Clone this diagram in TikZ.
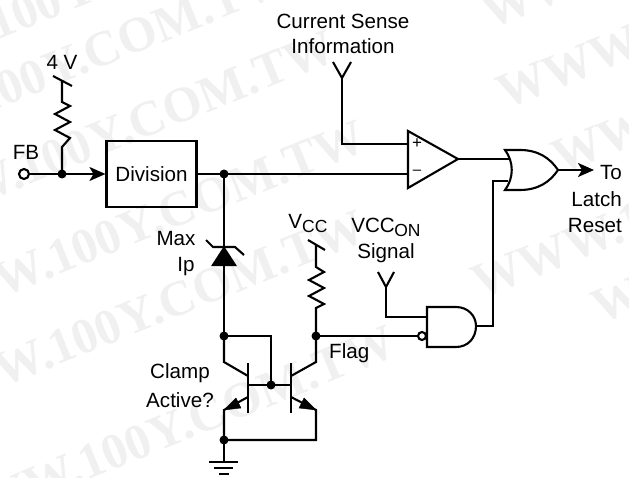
\documentclass[tikz,border=0pt]{standalone}
\usepackage{fontspec}
\setmainfont{Liberation Sans}
\newfontfamily\markfont{Liberation Serif}
\usetikzlibrary{arrows.meta}
\newcommand{\subtxt}[1]{\raisebox{-4pt}{\fontsize{17.5}{18}\selectfont #1}}
\tikzset{
	wire/.style={line width=2.1pt,line join=miter},
	junc/.style={circle,fill=black,inner sep=0pt,minimum size=9pt},
	lbl/.style={inner sep=0pt,font=\fontsize{20.6}{25}\selectfont,align=center},
	flow/.style={wire,-{Stealth[length=16pt,width=14pt,inset=4pt]}},
	wmark/.style={inner sep=0pt,anchor=base west,rotate=22,text=black!6,font=\markfont\bfseries\fontsize{50}{50}\selectfont}
}
\begin{document}
\begin{tikzpicture}[x=1pt,y=-1pt]
	\useasboundingbox (0,0) rectangle (629,478);
	% watermark
	\foreach \wx/\wy/\wn in {-150/100/a,-165/175/b,-120/245/c,-90/335/d,-90/425/e,-60/540/f,490/30/g,505/110/h,560/175/i,480/300/j,600/325/k}{
		\node[wmark] (mark\wn) at (\wx,\wy) {WWW.100Y.COM.TW};
	}
	% input and divider
	\coordinate (fbin) at (62,174);
	\coordinate (fvdd) at (62,81);
	\node[circle,draw,wire,fill=white,inner sep=0pt,minimum size=10pt] (fb) at (24,174) {};
	\node[lbl] (fblbl) at (26,152) {FB};
	\node[lbl] (fourv) at (62,62) {4 V};
	\node[draw,wire,minimum width=90pt,minimum height=66pt,inner sep=0pt] (division) at (151.5,174) {};
	\node[lbl] (divtxt) at (151.5,174) {Division};
	\draw[wire](53,76)--(72,86);
	\draw[wire](fvdd)--(62,102)--(70,106)--(55,114)--(70,122)--(55,130)--(70,138)--(62,147)--(fbin);
	\draw[flow](fb)--(division);
	\node[junc] (fbdot) at (fbin) {};
	% comparator
	\coordinate (split) at (224,174);
	\coordinate (cplus) at (408,144);
	\coordinate (cminus) at (408,174);
	\coordinate (cout) at (458,159);
	\coordinate (sense) at (342,78);
	\draw[wire](division)--(cminus);
	\draw[wire](333,62)--(sense)--(351,62);
	\draw[wire](sense)--(342,144)--(cplus);
	\draw[wire](408,131)--(cout)--(408,188)--cycle;
	\node[lbl] (cp) at (417,144) {\fontsize{17}{17}\selectfont +};
	\node[lbl] (cm) at (417,172) {\fontsize{15}{15}\selectfont –};
	\node[lbl] (senselbl) at (343,34) {Current Sense\\Information};
	\node[junc] (splitdot) at (split) {};
	% or gate
	\coordinate (ortip) at (558,170);
	\draw[wire,fill=white](505,150)--(520,150)..controls (538,150) and (550,158) .. (ortip)
		..controls (550,182) and (538,190) .. (520,190)--(505,190)
		..controls (514,178) and (514,162) .. (505,150)--cycle;
	\draw[wire](cout)--(510,159);
	\draw[flow](ortip)--(594,170);
	\node[lbl,anchor=east] (tolbl) at (622,173) {To};
	\node[lbl,anchor=east] (latchlbl) at (622,199) {Latch};
	\node[lbl,anchor=east] (resetlbl) at (622,226) {Reset};
	% nand gate
	\coordinate (naout) at (476,326);
	\coordinate (vccon) at (386,287);
	\draw[wire](427,307)--(456,307)..controls (468,307) and (476,316) .. (naout)
		..controls (476,338) and (468,347) .. (456,347)--(427,347)--cycle;
	\node[circle,draw,wire,fill=white,inner sep=0pt,minimum size=8pt] (bubble) at (422,336) {};
	\draw[wire](naout)--(493,326)--(493,181)--(508,181);
	\draw[wire](378,272)--(vccon)--(394,272);
	\draw[wire](vccon)--(386,317)--(427,317);
	\node[lbl] (vcconlbl) at (386,227) {VCC\kern-0.5pt\subtxt{ON}};
	\node[lbl] (siglbl) at (386,253) {Signal};
	% clamp
	\coordinate (clampdot) at (224,336);
	\coordinate (flagdot) at (316,336);
	\coordinate (basedot) at (271,385);
	\coordinate (emdot) at (224,440);
	\draw[wire](split)--(clampdot);
	\draw[wire,fill=black](213,265)--(224,248)--(235,265)--cycle;
	\draw[wire](206,240)--(213,247)--(235,247)--(244,255);
	\node[lbl] (maxlbl) at (176,239) {Max};
	\node[lbl] (iplbl) at (186,267) {Ip};
	\node[lbl] (vcclbl) at (308,224) {V\subtxt{CC}};
	\draw[wire](308,240)--(325,250);
	\draw[wire](316,245)--(316,267)--(324,272)--(309,280)--(324,288)--(309,296)--(324,304)--(316,308)--(flagdot);
	\draw[wire](clampdot)--(271,336)--(basedot);
	\draw[wire](248,385)--(291,385);
	\draw[wire](248,363)--(248,413);
	\draw[wire](291,363)--(291,413);
	\draw[wire](clampdot)--(224,362)--(248,376);
	\draw[wire](flagdot)--(316,362)--(291,376);
	\draw[wire](248,397)--(224,410)--(emdot);
	\draw[wire](291,397)--(316,410)--(316,440)--(emdot);
	\draw[fill=black](224,410)--(236,398)--(241,408)--cycle;
	\draw[fill=black](316,410)--(304,398)--(299,408)--cycle;
	\draw[wire](flagdot)--(bubble);
	\node[lbl,anchor=west] (flaglbl) at (329,353) {Flag};
	\node[lbl] (clamplbl) at (180,373) {Clamp};
	\node[lbl] (activelbl) at (180,400) {Active?};
	\draw[wire](emdot)--(224,462);
	\draw[wire](209,462)--(238,462);
	\draw[wire](214,468)--(233,468);
	\draw[wire](219,474)--(229,474);
	\node[junc] (d1) at (clampdot) {};
	\node[junc] (d2) at (flagdot) {};
	\node[junc] (d3) at (basedot) {};
	\node[junc] (d4) at (emdot) {};
\end{tikzpicture}
\end{document}
